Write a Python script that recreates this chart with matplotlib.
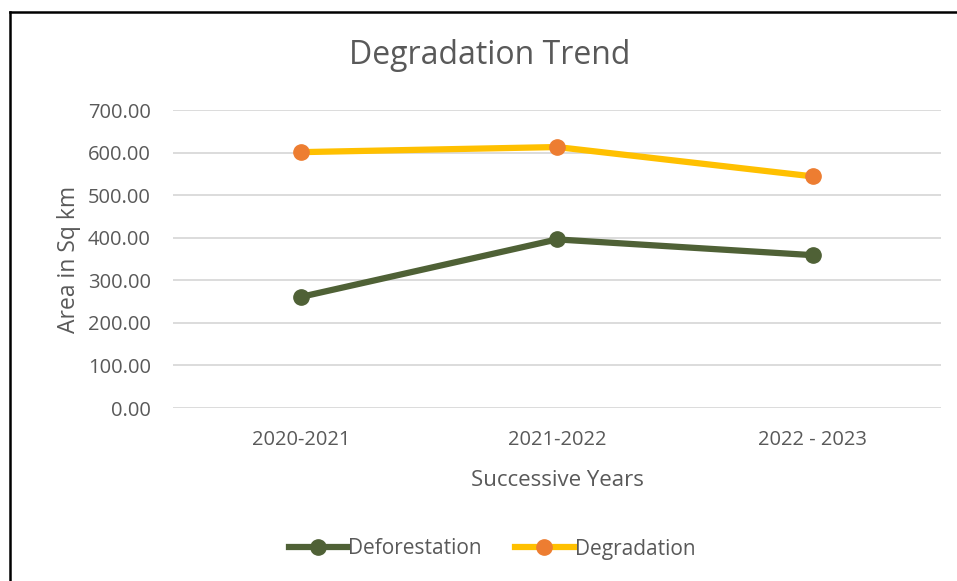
import matplotlib.pyplot as plt
from matplotlib.lines import Line2D

plt.rcParams['font.family'] = ['Open Sans', 'DejaVu Sans']

# Degradation trend data, area in sq km
years = ['2020-2021', '2021-2022', '2022 - 2023']
deforestation = [261, 396, 359]
degradation = [601, 613, 544]
y_ticks = [0, 100, 200, 300, 400, 500, 600, 700]

grey = '#595959'

fig = plt.figure(figsize=(9.57, 5.81), dpi=100)
ax = fig.add_axes([173 / 957, 1 - 408 / 581, 768 / 957, 298 / 581])

x = list(range(len(years)))
ax.plot(x, deforestation, color='#4F6136', lw=4.5, marker='o', ms=11,
        solid_capstyle='round', label='Deforestation')
ax.plot(x, degradation, color='#FFC000', lw=4.5, marker='o', ms=11,
        mfc='#ED7D31', mec='#ED7D31', solid_capstyle='round', label='Degradation')

ax.set_xlim(-0.5, 2.5)
ax.set_ylim(0, 700)
ax.set_xticks(x)
ax.set_xticklabels(years)
ax.set_yticks(y_ticks)
ax.set_yticklabels(['%.2f' % v for v in y_ticks])
ax.tick_params(length=0, labelsize=14.5, colors=grey)
ax.tick_params(axis='x', pad=16)
ax.tick_params(axis='y', pad=16)
ax.grid(axis='y', color='#d9d9d9', lw=1.3)
ax.set_axisbelow(True)
for s in ax.spines.values():
    s.set_visible(False)

ax.set_xlabel('Successive Years', fontsize=16, color=grey, labelpad=14)
ax.set_ylabel('Area in Sq km', fontsize=16.5, color=grey, labelpad=5)
fig.text(490 / 957, 1 - 56 / 581, 'Degradation Trend', ha='center', va='center',
         fontsize=23, color=grey)

handles = [
    Line2D([], [], color='#4F6136', lw=4.5, marker='o', ms=11),
    Line2D([], [], color='#FFC000', lw=4.5, marker='o', ms=11, mfc='#ED7D31', mec='#ED7D31'),
]
fig.legend(handles, ['Deforestation', 'Degradation'], loc='center',
           bbox_to_anchor=(492 / 957, 1 - 549 / 581), ncol=2, frameon=False,
           fontsize=15, labelcolor=grey, handlelength=2.8, handletextpad=0.05,
           columnspacing=1.6)

# outer chart border (top and left edges)
fig.add_artist(Line2D([9.5 / 957, 1], [1 - 11.5 / 581] * 2, color='black', lw=1.8))
fig.add_artist(Line2D([9.5 / 957] * 2, [0, 1 - 11.5 / 581], color='black', lw=1.8))

fig.savefig('out.png', dpi=100)
